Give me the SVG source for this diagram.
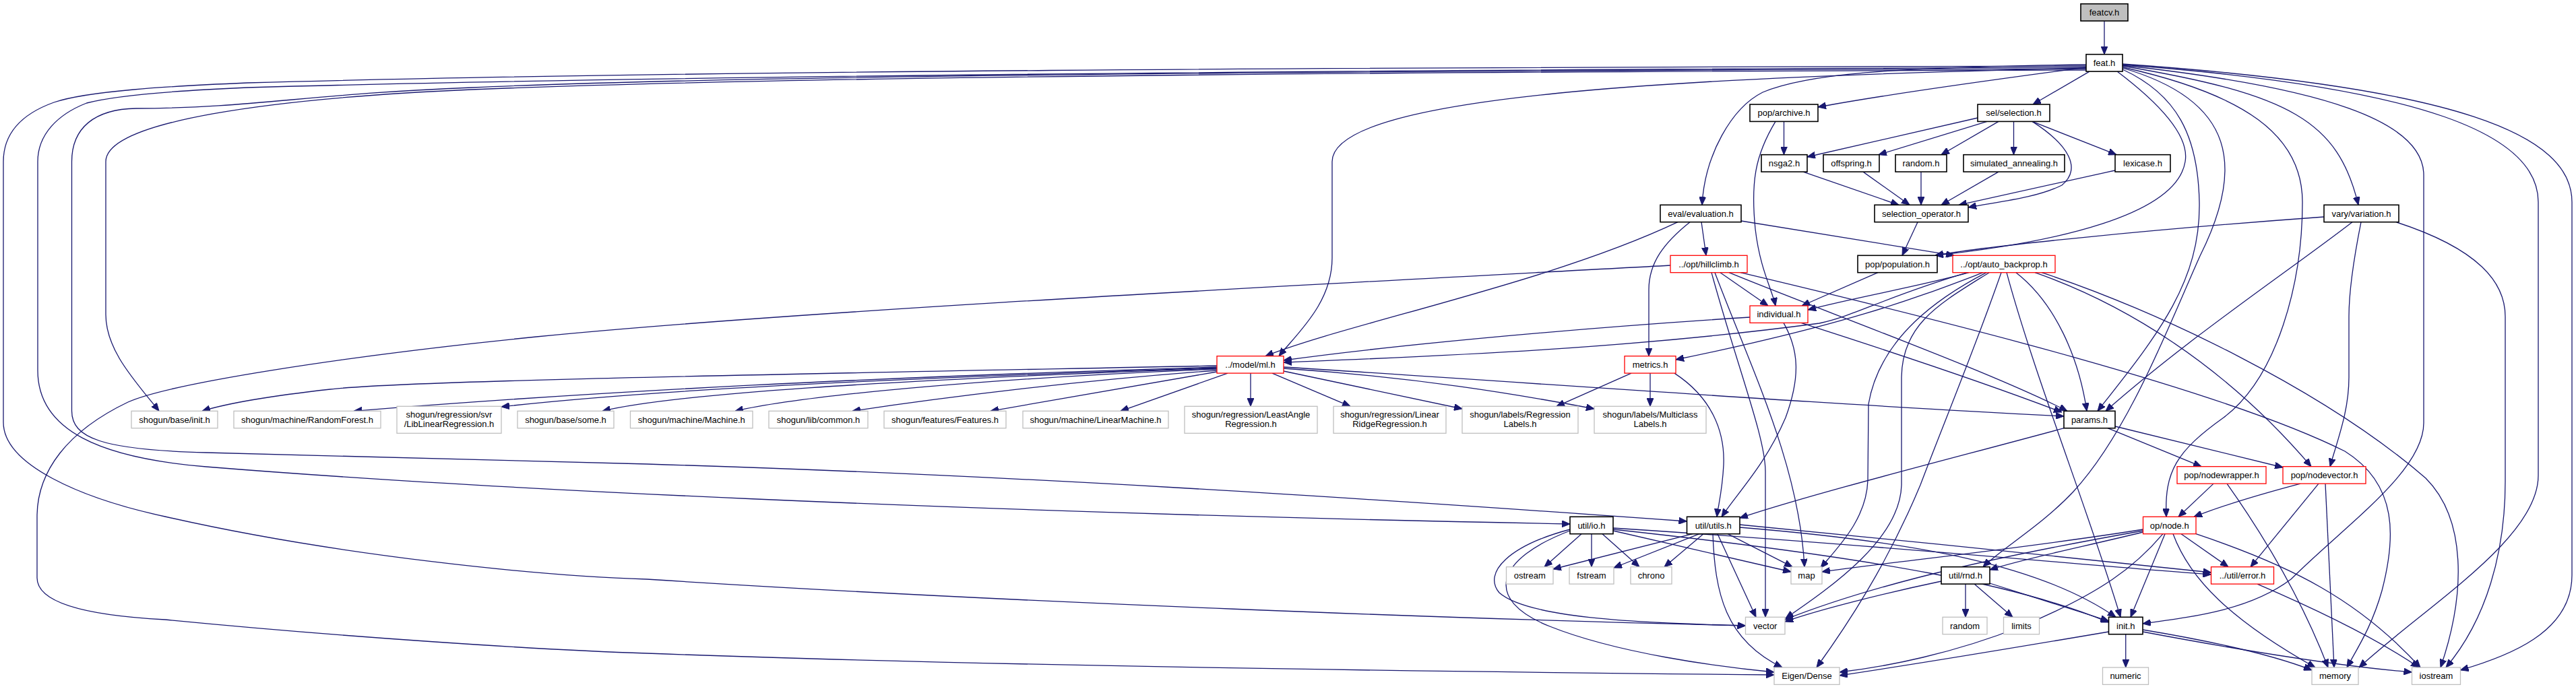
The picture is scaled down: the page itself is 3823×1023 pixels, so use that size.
<svg xmlns="http://www.w3.org/2000/svg" width="3823" height="1023" viewBox="0 0 3823 1023">
<defs>
<marker id="ah" viewBox="0 0 12 10" refX="12" refY="5" markerWidth="12" markerHeight="10" markerUnits="userSpaceOnUse" orient="auto">
<path d="M0,0 L12,5 L0,10 Z" fill="#191970" stroke="#191970" stroke-width="1"/>
</marker>
</defs>
<style>
.e{fill:none;stroke:#191970;stroke-width:1.3;marker-end:url(#ah)}
.node rect{fill:#ffffff;stroke-width:1.3}
.b rect{stroke:#000000;stroke-width:1.6}
.r rect{stroke:#ff0000}
.g rect{stroke:#bfbfbf}
.root rect{fill:#bfbfbf;stroke:#000000;stroke-width:1.6}
text{font-family:"Liberation Sans",Arial,Helvetica,sans-serif;font-size:13px;fill:#000000;text-anchor:middle}
</style>
<rect x="0" y="0" width="3823" height="1023" fill="#ffffff"/>
<g id="edges">
<path class="e" d="M3123,31.1 L3123,80.7"/>
<path class="e" d="M3101,106.1 L3017,155"/>
<path class="e" d="M3096,100 C2960,118 2800,140 2698,159"/>
<path class="e" d="M3096,96 C2800,100 2680,110 2616,137 C2570,160 2530,230 2526,304.3"/>
<path class="e" d="M3096,101 C2500,115 1977,140 1977,240 L1977,383 C1977,450 1925,495 1898,528.7"/>
<path class="e" d="M3096,104 C2200,106 1200,112 700,133 C400,146 157,180 157,240 L157,467 C157,520 200,565 236,610.3"/>
<path class="e" d="M3096,102 C2000,105 1100,112 700,130 C450,140 380,160 202,161 C140,162 106.5,190 106.5,240 L106.5,610 C106.5,650 150,668 306,672 L960,689 C1500,705 2000,738 2503.5,774"/>
<path class="e" d="M3096,100 C2000,104 1000,112 367,130 C250,135 170,142 128.6,153 C85,170 56,200 56,240 L56,550 C56,640 150,680 306,693 C700,725 1400,760 2330,778"/>
<path class="e" d="M3096,98 C2000,100 1000,105 367,123 C250,128 130,135 80,152 C30,170 5,200 5,240 L5,627 C5,690 120,740 245,767 C500,825 800,855 960,860 C1500,895 2200,920 2590.5,929"/>
<path class="e" d="M3142,106.1 C3200,150 3250,200 3243,240 C3230,320 3050,360 2872,379.3"/>
<path class="e" d="M3150,103 C3230,140 3262,200 3264,300 C3266,420 3200,500 3113,610.3"/>
<path class="e" d="M3150,101 C3320,150 3330,250 3265,380 C3220,480 3160,640 3077,730 C3030,780 2970,815 2943,841.7"/>
<path class="e" d="M3151,100 C3330,140 3417,200 3417,300 C3417,420 3380,560 3300,620 C3230,670 3212,700 3215,767.3"/>
<path class="e" d="M3150,98 C3400,140 3470,180 3500,304.3"/>
<path class="e" d="M3150,97 C3450,130 3597,180 3597,260 L3597,628 C3597,700 3480,780 3400,860 C3340,905 3260,915 3180,926"/>
<path class="e" d="M3150,96 C3600,130 3767,200 3767,300 L3767,706 C3767,800 3600,900 3501,991"/>
<path class="e" d="M3150,95 C3650,130 3817,200 3817,300 L3817,854 C3817,940 3720,975 3651.5,995"/>
<path class="e" d="M2935,175 L2682,233"/>
<path class="e" d="M2949,180.4 L2788,229.7"/>
<path class="e" d="M2966,180.4 L2881,229.7"/>
<path class="e" d="M2988.5,180.4 L2988.5,229.7"/>
<path class="e" d="M3016,180.4 L3141,229.7"/>
<path class="e" d="M3016,180.4 C3070,215 3090,250 3060,275 C3020,295 2960,300 2921,308"/>
<path class="e" d="M2647.5,180.4 L2647.5,229.7"/>
<path class="e" d="M2635,180.4 C2605,230 2598,270 2605,340 C2612,400 2630,430 2635,454"/>
<path class="e" d="M2676,255.1 L2818,304.3"/>
<path class="e" d="M2765,255.1 L2834,304.3"/>
<path class="e" d="M2851,255.1 L2851,304.3"/>
<path class="e" d="M2966,255.1 L2881,304.3"/>
<path class="e" d="M3139,253 L2907,304.3"/>
<path class="e" d="M2846,329.7 L2823,379.3"/>
<path class="e" d="M2525,329.7 L2532,379.3"/>
<path class="e" d="M2490,329.7 C2300,420 2000,480 1878,528.7"/>
<path class="e" d="M2508,329.7 C2470,360 2447,390 2447,430 L2447,528.7"/>
<path class="e" d="M2584,328 L2900,379.3"/>
<path class="e" d="M2553,404.7 L2624,454"/>
<path class="e" d="M2479,394 C2000,420 1200,460 796,500 C500,530 250,570 190,597 C100,640 55,700 55,767 L55,858 C55,900 150,915 245,920 C500,945 800,965 960,970 C1500,990 2200,998 2633,1002"/>
<path class="e" d="M2566,404.7 C2700,460 2950,550 3068,610.3"/>
<path class="e" d="M2583,404.7 C2900,480 3300,580 3480,670 C3560,720 3555,800 3535,877 C3520,930 3500,960 3483,991"/>
<path class="e" d="M2540,404.7 C2580,550 2620,650 2620,700 L2620,916.3"/>
<path class="e" d="M2545,404.7 C2600,550 2670,690 2678,841.7"/>
<path class="e" d="M2597,471 C2300,490 2050,515 1905,535"/>
<path class="e" d="M2647,479.4 C2670,520 2672,560 2650,620 C2620,690 2580,730 2555,767.3"/>
<path class="e" d="M2673,479.4 C2800,520 2950,570 3060,612"/>
<path class="e" d="M2787,404.7 L2674,454"/>
<path class="e" d="M2922,404.7 C2850,425 2760,440 2683,460"/>
<path class="e" d="M2920,404.7 C2800,440 2750,470 2700,480 C2400,520 2100,530 1905,538"/>
<path class="e" d="M2943,404.7 C2850,440 2750,480 2487,534"/>
<path class="e" d="M2948,404.7 C2880,440 2790,500 2773,600 L2772,713 C2770,770 2730,810 2702,843"/>
<path class="e" d="M2952,404.7 C2880,450 2823,480 2822,560 L2822,720 C2820,800 2720,870 2650,918"/>
<path class="e" d="M2970,404.7 C2930,520 2880,640 2850,720 C2800,840 2740,930 2696,991"/>
<path class="e" d="M2978,404.7 C3020,560 3100,760 3147,916.3"/>
<path class="e" d="M2992,404.7 C3050,450 3085,530 3097,610.3"/>
<path class="e" d="M3020,404.7 C3150,450 3300,540 3430,692.7"/>
<path class="e" d="M3030,404.7 C3200,460 3450,580 3600,710 C3660,770 3660,880 3622,991"/>
<path class="e" d="M2421,554.1 L2310,603.3"/>
<path class="e" d="M2449,554.1 L2449,603.3"/>
<path class="e" d="M2485,554.1 C2540,590 2560,640 2558,690 C2556,730 2550,750 2548,767.3"/>
<path class="e" d="M1806,543 C1200,555 600,565 490,578 C400,588 340,598 300,610.3"/>
<path class="e" d="M1806,545 C1300,560 900,580 525,610.3"/>
<path class="e" d="M1806,546 C1400,560 1000,575 744,604"/>
<path class="e" d="M1806,547 C1300,565 1000,585 894,610.3"/>
<path class="e" d="M1806,548 C1500,560 1200,585 1091,610.3"/>
<path class="e" d="M1806,550 C1600,565 1400,590 1265,610.3"/>
<path class="e" d="M1806,552 C1650,580 1560,595 1470,610.3"/>
<path class="e" d="M1822,554.1 L1663,610.3"/>
<path class="e" d="M1856,554.1 L1856,603.3"/>
<path class="e" d="M1888,554.1 L2004,603.3"/>
<path class="e" d="M1905,551 L2170,607"/>
<path class="e" d="M1905,547 C2100,560 2250,585 2366,607"/>
<path class="e" d="M1905,545 C2300,570 2700,600 3063,618"/>
<path class="e" d="M3128,635.7 L3267,692.7"/>
<path class="e" d="M3139,633 L3388,694"/>
<path class="e" d="M3063,635.7 C2900,680 2700,730 2582,769"/>
<path class="e" d="M3285,718.1 L3233,767.3"/>
<path class="e" d="M3305,718.1 C3370,810 3420,900 3455,991"/>
<path class="e" d="M3414,718.1 C3350,735 3300,750 3256,767.3"/>
<path class="e" d="M3441,718.1 L3340,841.7"/>
<path class="e" d="M3451,718.1 L3464,991"/>
<path class="e" d="M3237,792.7 L3307,841.7"/>
<path class="e" d="M3213,792.7 L3162,916.3"/>
<path class="e" d="M3180.5,790 C3100,810 3000,830 2953,846"/>
<path class="e" d="M3180.5,786 C3000,815 2800,835 2704,849"/>
<path class="e" d="M3180.5,788 C3000,820 2800,860 2649,920"/>
<path class="e" d="M3210,792.7 C3170,840 3120,880 3000,930 C2900,970 2800,990 2730,998"/>
<path class="e" d="M3225,792.7 C3250,860 3310,920 3436,991"/>
<path class="e" d="M3259,792.7 C3400,840 3500,890 3592,991"/>
<path class="e" d="M3350,867.1 C3450,910 3530,950 3590,991"/>
<path class="e" d="M2917,867.1 L2917,916.3"/>
<path class="e" d="M2930,867.1 L2987,916.3"/>
<path class="e" d="M2953,866 L3129.5,922"/>
<path class="e" d="M2881,863 C2800,880 2700,905 2649,923"/>
<path class="e" d="M2512,792.7 L2305,845"/>
<path class="e" d="M2522,792.7 L2395,843"/>
<path class="e" d="M2528,792.7 L2470,841.7"/>
<path class="e" d="M2564,792.7 L2660,841.7"/>
<path class="e" d="M2549,792.7 L2606,916.3"/>
<path class="e" d="M2542,792.7 C2545,880 2560,950 2645,991"/>
<path class="e" d="M2582,779 C2800,800 3100,830 3281.5,850"/>
<path class="e" d="M2582,783 C2850,805 3030,840 3140,916.3"/>
<path class="e" d="M2347,792.7 L2292,841.7"/>
<path class="e" d="M2362,792.7 L2362,841.7"/>
<path class="e" d="M2378,792.7 L2433,841.7"/>
<path class="e" d="M2394,788 L2658,849"/>
<path class="e" d="M2330,786 C2240,810 2200,850 2225,880 C2270,920 2450,925 2590.5,929"/>
<path class="e" d="M2330,788 C2220,830 2200,890 2300,930 C2400,970 2550,990 2633,998"/>
<path class="e" d="M2394,784 C2800,810 3100,840 3281.5,853"/>
<path class="e" d="M2394,786 C2800,830 3000,870 3129.5,924"/>
<path class="e" d="M3154.75,941.7 L3154.75,991"/>
<path class="e" d="M3129.5,938 C3000,960 2850,985 2730,1003"/>
<path class="e" d="M3180,935 C3300,955 3380,975 3431,995"/>
<path class="e" d="M3180,938 C3350,970 3480,990 3579.5,998"/>
<path class="e" d="M3449,322 C3200,340 2950,365 2872,379.3"/>
<path class="e" d="M3491,329.7 C3400,400 3250,500 3125,610.3"/>
<path class="e" d="M3504,329.7 C3490,400 3486,440 3486,470 L3486,560 C3486,610 3470,650 3458,692.7"/>
<path class="e" d="M3556,329.7 C3680,370 3718,420 3718,470 L3718,715 C3718,820 3690,920 3630,991"/>
</g>
<g id="n-featcv" class="node root"><rect x="3088" y="5.7" width="70" height="25.4"/><text x="3123" y="23">featcv.h</text></g>
<g id="n-feat" class="node b"><rect x="3096" y="80.7" width="54" height="25.4"/><text x="3123" y="98">feat.h</text></g>
<g id="n-selection" class="node b"><rect x="2935" y="155" width="107" height="25.4"/><text x="2988.5" y="172.3">sel/selection.h</text></g>
<g id="n-archive" class="node b"><rect x="2597" y="155" width="101" height="25.4"/><text x="2647.5" y="172.3">pop/archive.h</text></g>
<g id="n-nsga2" class="node b"><rect x="2614" y="229.7" width="68" height="25.4"/><text x="2648" y="247">nsga2.h</text></g>
<g id="n-offspring" class="node b"><rect x="2706" y="229.7" width="83" height="25.4"/><text x="2747.5" y="247">offspring.h</text></g>
<g id="n-randomh" class="node b"><rect x="2813" y="229.7" width="76" height="25.4"/><text x="2851" y="247">random.h</text></g>
<g id="n-sa" class="node b"><rect x="2914" y="229.7" width="150" height="25.4"/><text x="2989" y="247">simulated_annealing.h</text></g>
<g id="n-lexicase" class="node b"><rect x="3139" y="229.7" width="82" height="25.4"/><text x="3180" y="247">lexicase.h</text></g>
<g id="n-evaluation" class="node b"><rect x="2464" y="304.3" width="120" height="25.4"/><text x="2524" y="321.6">eval/evaluation.h</text></g>
<g id="n-selop" class="node b"><rect x="2782" y="304.3" width="139" height="25.4"/><text x="2851.5" y="321.6">selection_operator.h</text></g>
<g id="n-variation" class="node b"><rect x="3449" y="304.3" width="111" height="25.4"/><text x="3504.5" y="321.6">vary/variation.h</text></g>
<g id="n-hillclimb" class="node r"><rect x="2479" y="379.3" width="114" height="25.4"/><text x="2536" y="396.6">../opt/hillclimb.h</text></g>
<g id="n-population" class="node b"><rect x="2757" y="379.3" width="118" height="25.4"/><text x="2816" y="396.6">pop/population.h</text></g>
<g id="n-autobackprop" class="node r"><rect x="2898" y="379.3" width="152" height="25.4"/><text x="2974" y="396.6">../opt/auto_backprop.h</text></g>
<g id="n-individual" class="node r"><rect x="2597" y="454" width="86" height="25.4"/><text x="2640" y="471.3">individual.h</text></g>
<g id="n-ml" class="node r"><rect x="1806" y="528.7" width="99" height="25.4"/><text x="1855.5" y="546">../model/ml.h</text></g>
<g id="n-metrics" class="node r"><rect x="2411" y="528.7" width="76" height="25.4"/><text x="2449" y="546">metrics.h</text></g>
<g id="n-sginit" class="node g"><rect x="195" y="610.3" width="128" height="25.4"/><text x="259" y="627.6">shogun/base/init.h</text></g>
<g id="n-randomforest" class="node g"><rect x="347" y="610.3" width="218" height="25.4"/><text x="456" y="627.6">shogun/machine/RandomForest.h</text></g>
<g id="n-liblinear" class="node g"><rect x="589" y="603.3" width="155" height="40"/><text x="666.5" y="619.5">shogun/regression/svr</text><text x="666.5" y="633.8">/LibLinearRegression.h</text></g>
<g id="n-some" class="node g"><rect x="768" y="610.3" width="143" height="25.4"/><text x="839.5" y="627.6">shogun/base/some.h</text></g>
<g id="n-machine" class="node g"><rect x="935.5" y="610.3" width="181.5" height="25.4"/><text x="1026.25" y="627.6">shogun/machine/Machine.h</text></g>
<g id="n-common" class="node g"><rect x="1141" y="610.3" width="147" height="25.4"/><text x="1214.5" y="627.6">shogun/lib/common.h</text></g>
<g id="n-features" class="node g"><rect x="1312" y="610.3" width="181" height="25.4"/><text x="1402.5" y="627.6">shogun/features/Features.h</text></g>
<g id="n-linearmachine" class="node g"><rect x="1518" y="610.3" width="216" height="25.4"/><text x="1626" y="627.6">shogun/machine/LinearMachine.h</text></g>
<g id="n-leastangle" class="node g"><rect x="1758" y="603.3" width="197" height="40"/><text x="1856.5" y="619.5">shogun/regression/LeastAngle</text><text x="1856.5" y="633.8">Regression.h</text></g>
<g id="n-linearridge" class="node g"><rect x="1979" y="603.3" width="167" height="40"/><text x="2062.5" y="619.5">shogun/regression/Linear</text><text x="2062.5" y="633.8">RidgeRegression.h</text></g>
<g id="n-reglabels" class="node g"><rect x="2170" y="603.3" width="172" height="40"/><text x="2256" y="619.5">shogun/labels/Regression</text><text x="2256" y="633.8">Labels.h</text></g>
<g id="n-mclabels" class="node g"><rect x="2366" y="603.3" width="166" height="40"/><text x="2449" y="619.5">shogun/labels/Multiclass</text><text x="2449" y="633.8">Labels.h</text></g>
<g id="n-params" class="node b"><rect x="3063" y="610.3" width="76" height="25.4"/><text x="3101" y="627.6">params.h</text></g>
<g id="n-nodewrapper" class="node r"><rect x="3231" y="692.7" width="132" height="25.4"/><text x="3297" y="710">pop/nodewrapper.h</text></g>
<g id="n-nodevector" class="node r"><rect x="3388" y="692.7" width="123" height="25.4"/><text x="3449.5" y="710">pop/nodevector.h</text></g>
<g id="n-io" class="node b"><rect x="2330" y="767.3" width="64" height="25.4"/><text x="2362" y="784.6">util/io.h</text></g>
<g id="n-utils" class="node b"><rect x="2503.5" y="767.3" width="78.5" height="25.4"/><text x="2542.75" y="784.6">util/utils.h</text></g>
<g id="n-node" class="node r"><rect x="3180.5" y="767.3" width="78.5" height="25.4"/><text x="3219.75" y="784.6">op/node.h</text></g>
<g id="n-ostream" class="node g"><rect x="2235.5" y="841.7" width="69.5" height="25.4"/><text x="2270.25" y="859">ostream</text></g>
<g id="n-fstream" class="node g"><rect x="2329" y="841.7" width="66" height="25.4"/><text x="2362" y="859">fstream</text></g>
<g id="n-chrono" class="node g"><rect x="2420" y="841.7" width="61" height="25.4"/><text x="2450.5" y="859">chrono</text></g>
<g id="n-map" class="node g"><rect x="2658" y="841.7" width="46" height="25.4"/><text x="2681" y="859">map</text></g>
<g id="n-rnd" class="node b"><rect x="2881" y="841.7" width="72" height="25.4"/><text x="2917" y="859">util/rnd.h</text></g>
<g id="n-error" class="node r"><rect x="3281.5" y="841.7" width="93" height="25.4"/><text x="3328" y="859">../util/error.h</text></g>
<g id="n-vector" class="node g"><rect x="2590.5" y="916.3" width="58.5" height="25.4"/><text x="2619.75" y="933.6">vector</text></g>
<g id="n-random" class="node g"><rect x="2883" y="916.3" width="66" height="25.4"/><text x="2916" y="933.6">random</text></g>
<g id="n-limits" class="node g"><rect x="2973.5" y="916.3" width="53" height="25.4"/><text x="3000" y="933.6">limits</text></g>
<g id="n-init" class="node b"><rect x="3129.5" y="916.3" width="50.5" height="25.4"/><text x="3154.75" y="933.6">init.h</text></g>
<g id="n-eigen" class="node g"><rect x="2633" y="991" width="97" height="25.4"/><text x="2681.5" y="1008.3">Eigen/Dense</text></g>
<g id="n-numeric" class="node g"><rect x="3120.5" y="991" width="68" height="25.4"/><text x="3154.5" y="1008.3">numeric</text></g>
<g id="n-memory" class="node g"><rect x="3431" y="991" width="69" height="25.4"/><text x="3465.5" y="1008.3">memory</text></g>
<g id="n-iostream" class="node g"><rect x="3579.5" y="991" width="72" height="25.4"/><text x="3615.5" y="1008.3">iostream</text></g>
</svg>
